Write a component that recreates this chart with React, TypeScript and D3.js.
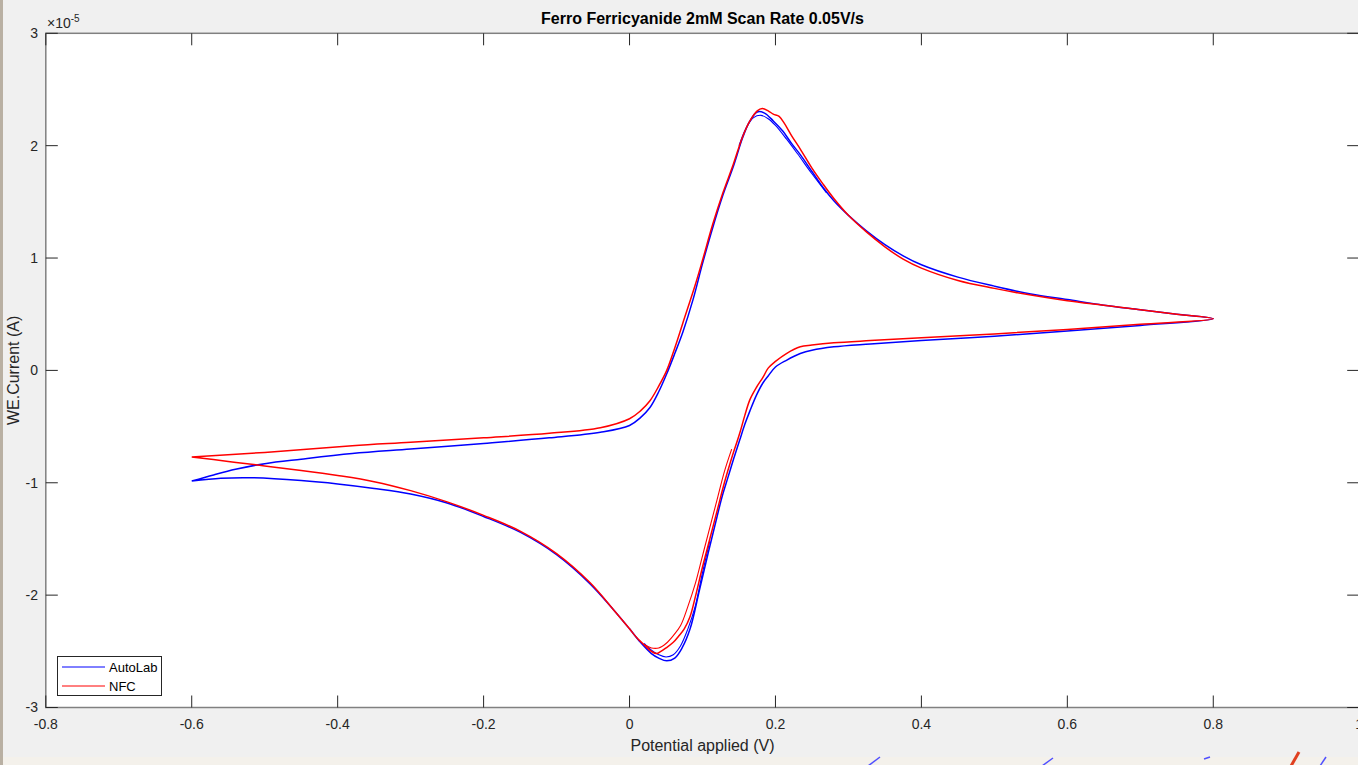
import React from "react";
import * as d3 from "d3";

// potentials in V, currents in units of 1e-5 A
const autolabScan: [number, number][] = [
  [-0.6, -0.985], [-0.57, -0.93], [-0.54, -0.88], [-0.5, -0.83], [-0.45, -0.79],
  [-0.38, -0.74], [-0.3, -0.7], [-0.2, -0.65], [-0.11, -0.6], [-0.04, -0.55],
  [0, -0.49], [0.015, -0.42], [0.028, -0.33], [0.04, -0.19], [0.051, -0.03],
  [0.062, 0.15], [0.073, 0.34], [0.087, 0.63], [0.1, 0.95], [0.114, 1.27],
  [0.128, 1.56], [0.142, 1.81], [0.155, 2.07], [0.165, 2.22], [0.175, 2.3],
  [0.185, 2.29], [0.197, 2.22], [0.21, 2.13], [0.222, 2.02], [0.234, 1.92],
  [0.25, 1.77], [0.265, 1.63], [0.28, 1.51], [0.3, 1.38], [0.325, 1.24],
  [0.35, 1.12], [0.375, 1.02], [0.4, 0.94], [0.45, 0.83], [0.5, 0.75],
  [0.55, 0.68], [0.6, 0.63], [0.65, 0.58], [0.7, 0.54], [0.75, 0.5], [0.8, 0.46],
  [0.7, 0.4], [0.6, 0.35], [0.5, 0.305], [0.4, 0.265], [0.33, 0.235],
  [0.28, 0.21], [0.25, 0.18], [0.234, 0.15], [0.215, 0.09], [0.2, 0.03],
  [0.19, -0.05], [0.183, -0.11], [0.174, -0.22], [0.165, -0.36], [0.158, -0.48],
  [0.151, -0.62], [0.143, -0.78], [0.135, -0.95], [0.127, -1.12], [0.12, -1.3],
  [0.108, -1.62], [0.096, -1.95], [0.083, -2.3], [0.072, -2.47], [0.062, -2.56],
  [0.051, -2.585], [0.04, -2.56], [0.03, -2.52], [0.015, -2.42], [0, -2.3],
  [-0.022, -2.13], [-0.054, -1.9], [-0.1, -1.64], [-0.15, -1.44], [-0.2, -1.3],
  [-0.25, -1.18], [-0.3, -1.1], [-0.35, -1.05], [-0.4, -1.01], [-0.45, -0.98],
  [-0.52, -0.955], [-0.56, -0.96], [-0.6, -0.985],
];

const autolabPeak2: [number, number][] = [
  [0.15, 2.0], [0.16, 2.16], [0.17, 2.25], [0.18, 2.27], [0.19, 2.24],
  [0.2, 2.18], [0.215, 2.06], [0.23, 1.93], [0.25, 1.75], [0.27, 1.58],
];

const autolabValley2: [number, number][] = [
  [0.11, -1.52], [0.1, -1.8], [0.09, -2.1], [0.08, -2.3], [0.07, -2.45],
  [0.06, -2.53], [0.05, -2.55], [0.04, -2.53], [0.03, -2.49], [0.02, -2.43],
];

const nfcScan: [number, number][] = [
  [-0.6, -0.77], [-0.5, -0.73], [-0.38, -0.67], [-0.3, -0.64], [-0.2, -0.6],
  [-0.11, -0.56], [-0.04, -0.51], [0, -0.43], [0.015, -0.36], [0.028, -0.27],
  [0.04, -0.14], [0.051, 0.0], [0.062, 0.2], [0.073, 0.42], [0.09, 0.76],
  [0.1, 0.98], [0.114, 1.3], [0.128, 1.58], [0.142, 1.83], [0.155, 2.08],
  [0.165, 2.22], [0.175, 2.31], [0.182, 2.33], [0.19, 2.31], [0.197, 2.28],
  [0.205, 2.26], [0.212, 2.2], [0.222, 2.09], [0.234, 1.97], [0.25, 1.8],
  [0.265, 1.66], [0.28, 1.53], [0.3, 1.38], [0.325, 1.23], [0.35, 1.1],
  [0.375, 0.99], [0.4, 0.91], [0.45, 0.8], [0.5, 0.73], [0.55, 0.67],
  [0.6, 0.62], [0.65, 0.58], [0.7, 0.54], [0.75, 0.5], [0.8, 0.46],
  [0.7, 0.41], [0.6, 0.365], [0.5, 0.325], [0.4, 0.29], [0.33, 0.265],
  [0.28, 0.245], [0.25, 0.225], [0.234, 0.21], [0.215, 0.15], [0.2, 0.08],
  [0.19, 0.02], [0.183, -0.06], [0.174, -0.15], [0.165, -0.26], [0.158, -0.4],
  [0.151, -0.56], [0.14, -0.78], [0.13, -1.0], [0.12, -1.25], [0.11, -1.5],
  [0.1, -1.75], [0.09, -2.02], [0.083, -2.19], [0.075, -2.3], [0.068, -2.36],
  [0.06, -2.42], [0.05, -2.47], [0.043, -2.5], [0.037, -2.52], [0.03, -2.5],
  [0.023, -2.46], [0.01, -2.38], [0, -2.3], [-0.022, -2.13], [-0.054, -1.89],
  [-0.1, -1.63], [-0.15, -1.43], [-0.2, -1.29], [-0.25, -1.17], [-0.3, -1.07],
  [-0.35, -0.99], [-0.4, -0.935], [-0.45, -0.89], [-0.5, -0.85], [-0.55, -0.81],
  [-0.6, -0.77],
];

const nfcValley2: [number, number][] = [
  [0.14, -0.7], [0.13, -0.9], [0.12, -1.15], [0.11, -1.4], [0.1, -1.65],
  [0.09, -1.9], [0.08, -2.1], [0.07, -2.27], [0.06, -2.36], [0.05, -2.43],
  [0.04, -2.47], [0.03, -2.47], [0.02, -2.44],
];

const xTicks = [-0.8, -0.6, -0.4, -0.2, 0, 0.2, 0.4, 0.6, 0.8, 1];
const yTicks = [-3, -2, -1, 0, 1, 2, 3];

const W = 1358;
const H = 765;
const font = "'Liberation Sans', Arial, Helvetica, sans-serif";
const ink = "#262626";

export default function App() {
  const x = d3.scaleLinear().domain([-0.8, 1]).range([45.8, 1359.2]);
  const y = d3.scaleLinear().domain([-3, 3]).range([707.5, 33.3]);
  const path = d3
    .line<[number, number]>()
    .x((d) => x(d[0]))
    .y((d) => y(d[1]))
    .curve(d3.curveCatmullRom.alpha(0.5));

  const [x0, x1] = x.range();
  const [y0, y1] = y.range();
  const tick = 12;
  const fmt = (v: number) => String(Math.round(v * 10) / 10);

  return (
    <svg
      width={W}
      height={H}
      style={{ position: "absolute", left: 0, top: 0, display: "block" }}
      fontFamily={font}
    >
      <rect width={W} height={H} fill="#f0f0f0" />
      <rect x={0} y={757} width={W} height={8} fill="#f4f1eb" />
      <rect x={0} y={0} width={3} height={H} fill="#b9b0a3" />
      {/* stray marks along the bottom edge of the screenshot */}
      <g strokeWidth={1.5}>
        <path d="M868,766 L880,757" stroke="#5050ff" />
        <path d="M1042,766 L1053,758" stroke="#5050ff" />
        <path d="M1204,759 L1210,757" stroke="#5050ff" />
        <path d="M1291,766 L1299,752" stroke="#e04020" strokeWidth={3} />
        <path d="M1320,766 L1326,757" stroke="#5050ff" />
      </g>

      <rect x={x0} y={y1} width={x1 - x0} height={y0 - y1} fill="#fff" />

      <g fill="none" strokeWidth={1.5}>
        <path d={path(autolabScan) ?? ""} stroke="#0000ff" />
        <path d={path(autolabPeak2) ?? ""} stroke="#0000ff" strokeWidth={1.1} />
        <path d={path(autolabValley2) ?? ""} stroke="#0000ff" strokeWidth={1.1} />
        <path d={path(nfcScan) ?? ""} stroke="#ff0000" />
        <path d={path(nfcValley2) ?? ""} stroke="#ff0000" strokeWidth={1.1} />
      </g>

      {/* box */}
      <rect
        x={x0}
        y={y1}
        width={x1 - x0}
        height={y0 - y1}
        fill="none"
        stroke="#808080"
        strokeWidth={1.5}
      />

      {/* x ticks */}
      {xTicks.map((t) => (
        <g key={"x" + t}>
          <line x1={x(t)} x2={x(t)} y1={y0} y2={y0 - tick} stroke={ink} />
          <line x1={x(t)} x2={x(t)} y1={y1} y2={y1 + tick} stroke={ink} />
          <text x={x(t)} y={729} textAnchor="middle" fontSize={14} fill={ink}>
            {fmt(t)}
          </text>
        </g>
      ))}

      {/* y ticks */}
      {yTicks.map((t) => (
        <g key={"y" + t}>
          <line x1={x0} x2={x0 + tick} y1={y(t)} y2={y(t)} stroke={ink} />
          <line x1={x1} x2={x1 - tick} y1={y(t)} y2={y(t)} stroke={ink} />
          <text
            x={38}
            y={y(t)}
            dy="0.35em"
            textAnchor="end"
            fontSize={14}
            fill={ink}
          >
            {fmt(t)}
          </text>
        </g>
      ))}

      <text x={47} y={28} fontSize={14} fill={ink}>
        ×10
        <tspan fontSize={10} dy={-6}>
          -5
        </tspan>
      </text>

      <text
        x={(x0 + x1) / 2}
        y={24}
        textAnchor="middle"
        fontSize={16}
        fontWeight="bold"
        fill="#000"
      >
        Ferro Ferricyanide 2mM Scan Rate 0.05V/s
      </text>

      <text
        x={(x0 + x1) / 2}
        y={751}
        textAnchor="middle"
        fontSize={16}
        fill={ink}
      >
        Potential applied (V)
      </text>

      <text
        transform={`translate(19,${(y0 + y1) / 2}) rotate(-90)`}
        textAnchor="middle"
        fontSize={16}
        fill={ink}
      >
        WE.Current (A)
      </text>

      {/* legend */}
      <g>
        <rect x={57.5} y={656.5} width={104} height={39} fill="#fff" stroke={ink} />
        <line x1={62} x2={105} y1={667} y2={667} stroke="#0000ff" />
        <line x1={62} x2={105} y1={686} y2={686} stroke="#ff0000" />
        <text x={109} y={667} dy="0.35em" fontSize={13} fill="#000">
          AutoLab
        </text>
        <text x={109} y={686} dy="0.35em" fontSize={13} fill="#000">
          NFC
        </text>
      </g>
    </svg>
  );
}
